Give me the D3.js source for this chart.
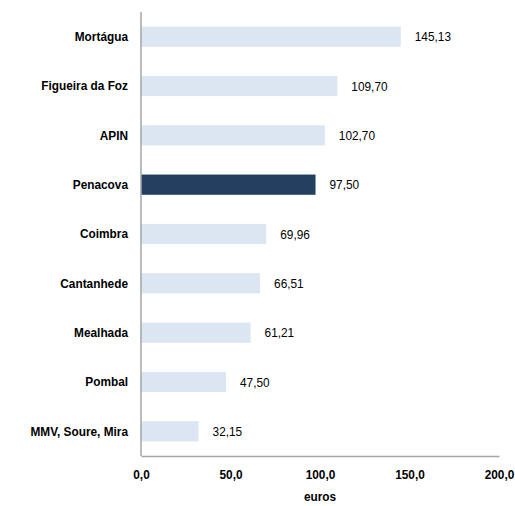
<!DOCTYPE html>
<html><head><meta charset="utf-8">
<script src="https://cdn.jsdelivr.net/npm/d3@7"></script>
<style>body{margin:0;background:#fff}svg{display:block}text{font-family:"Liberation Sans",Arial,sans-serif}</style>
</head><body>
<script>
const categories = ["Mortágua","Figueira da Foz","APIN","Penacova","Coimbra","Cantanhede","Mealhada","Pombal","MMV, Soure, Mira"];
const values = [145.13,109.70,102.70,97.50,69.96,66.51,61.21,47.50,32.15];
const highlight = "Penacova";
const xTicks = [0,50,100,150,200];
const xTitle = "euros";

const W=515,H=506;
const svg=d3.select("body").append("svg").attr("width",W).attr("height",H);
const x=d3.scaleLinear().domain([0,200]).range([141,499]);
const y=d3.scaleBand().domain(categories).range([12,456]).paddingInner(0.59).paddingOuter(0.295);
const fmt=v=>d3.format(".2f")(v).replace(".",",");
const fmt1=v=>d3.format(".1f")(v).replace(".",",");

svg.selectAll("rect.bar").data(categories).join("rect")
 .attr("x",x(0)).attr("y",d=>y(d)).attr("height",y.bandwidth())
 .attr("width",(d,i)=>x(values[i])-x(0))
 .attr("fill",d=>d===highlight?"#243f60":"#dce6f2");

svg.selectAll("text.val").data(categories).join("text").attr("class","val")
 .attr("x",(d,i)=>x(values[i])+14).attr("y",d=>y(d)+y.bandwidth()/2)
 .attr("dy","0.35em").attr("font-size",13).attr("fill","#000")
 .text((d,i)=>fmt(values[i]));

// y axis
const ya=svg.append("g").attr("transform",`translate(${x(0)},0)`).call(d3.axisLeft(y).tickSize(0).tickPadding(13));
ya.select(".domain").remove();
ya.selectAll("text").attr("font-size",13).attr("font-weight","bold").attr("fill","#000").attr("font-family","Liberation Sans, Arial, sans-serif");
svg.append("line").attr("x1",x(0)).attr("x2",x(0)).attr("y1",12).attr("y2",456).attr("stroke","#a6a6a6").attr("stroke-width",1.5);

// x axis
const xa=svg.append("g").attr("transform","translate(0,456)").call(d3.axisBottom(x).tickValues(xTicks).tickSize(0).tickPadding(14).tickFormat(fmt1));
xa.select(".domain").attr("stroke","#a6a6a6").attr("stroke-width",1.5);
xa.selectAll("text").attr("font-size",13).attr("font-weight","bold").attr("fill","#000").attr("font-family","Liberation Sans, Arial, sans-serif");

svg.append("text").attr("x",(x(0)+x(200))/2).attr("y",501).attr("text-anchor","middle")
 .attr("font-size",13).attr("font-weight","bold").text(xTitle);

// condense glyphs horizontally as in the reference
svg.selectAll("text").each(function(){
  const len=this.getComputedTextLength();
  d3.select(this).attr("textLength",len*0.91).attr("lengthAdjust","spacingAndGlyphs");
});
</script>
</body></html>
